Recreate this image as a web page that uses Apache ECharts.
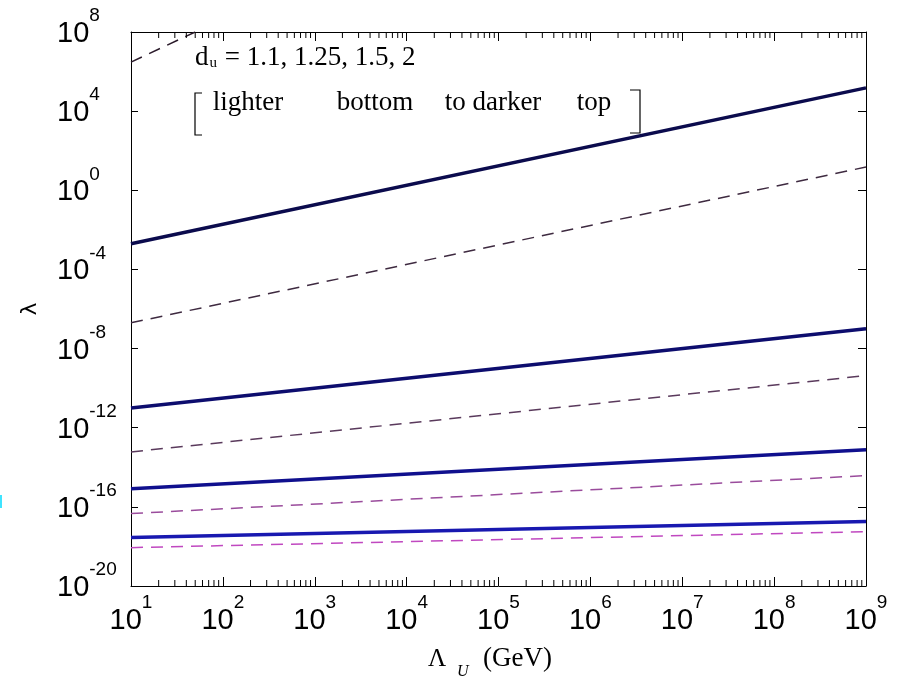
<!DOCTYPE html>
<html>
<head>
<meta charset="utf-8">
<script src="https://cdn.jsdelivr.net/npm/echarts@6/dist/echarts.min.js"></script>
<style>
html, body { margin: 0; padding: 0; background: #fff; }
#chart { width: 901px; height: 679px; }
</style>
</head>
<body>
<div id="chart"></div>
<script>
// axis range (Lambda_U in GeV, lambda)
const xRange = [10, 1e9]
const yRange = [1e-20, 1e8]

// solid lines, top to bottom (darker top -> lighter bottom)
const solid1 = [[10, 2e-3], [1e9, 1.5e5]]
const solid2 = [[10, 1e-11], [1e9, 1e-7]]
const solid3 = [[10, 8.3e-16], [1e9, 7.8e-14]]
const solid4 = [[10, 2.8e-18], [1e9, 1.8e-17]]

// dashed lines, top to bottom
const dash1 = [[10, 3e6], [50, 1e8]]
const dash2 = [[10, 2e-7], [1e9, 15]]
const dash3 = [[10, 6e-14], [1e9, 4.3e-10]]
const dash4 = [[10, 4.6e-17], [1e9, 3.8e-15]]
const dash5 = [[10, 8.7e-19], [1e9, 5.6e-18]]

const solidColors = ['#0b0b4d', '#0d0d6e', '#10108e', '#1818b0']
const dashColors = ['#2a1a2a', '#3e2a40', '#5a3a5c', '#9a4c9c', '#c048c0']

// minor tick values for the log x axis (2..9 in each decade)
const minorTicks = []
for (let e = 1; e < 9; e++) {
    for (let k = 2; k <= 9; k++) minorTicks.push(k * Math.pow(10, e))
}

const chart = echarts.init(document.getElementById('chart'))

// 10^n tick label
const powLabel = (v) => {
    const e = Math.round(Math.log10(v))
    return '{b|10}{s|' + e + '}'
}
const labelRich = {
    b: { fontSize: 29, fontFamily: 'Liberation Sans', color: '#000', padding: [13, 0, 9, 0] },
    s: { fontSize: 19, fontFamily: 'Liberation Sans', color: '#000', padding: [0, 0, 32, 0] }
}

const solidSeries = [solid1, solid2, solid3, solid4].map((d, i) => ({
    type: 'line',
    data: d,
    showSymbol: false,
    symbol: 'none',
    lineStyle: { width: 3.5, color: solidColors[i] },
    animation: false,
    z: 3
}))
const dashSeries = [dash1, dash2, dash3, dash4, dash5].map((d, i) => ({
    type: 'line',
    data: d,
    showSymbol: false,
    symbol: 'none',
    lineStyle: { width: 1.5, color: dashColors[i], type: [12, 8] },
    animation: false,
    z: 3
}))

const option = {
    backgroundColor: '#fff',
    animation: false,
    grid: { left: 131, right: 35, top: 32, bottom: 93, containLabel: false },
    xAxis: [{
        type: 'log', logBase: 10, min: xRange[0], max: xRange[1], interval: 1,
        position: 'bottom',
        axisLine: { show: true, onZero: false, lineStyle: { color: '#000', width: 1 } },
        axisTick: { show: true, inside: true, length: 9, lineStyle: { color: '#000' } },
        splitLine: { show: false },
        axisLabel: { formatter: powLabel, rich: labelRich, margin: 7, showMinLabel: true, showMaxLabel: true }
    }, {
        type: 'log', logBase: 10, min: xRange[0], max: xRange[1], interval: 1,
        position: 'top',
        axisLine: { show: true, onZero: false, lineStyle: { color: '#000', width: 1 } },
        axisTick: { show: true, inside: true, length: 9, lineStyle: { color: '#000' } },
        splitLine: { show: false },
        axisLabel: { show: false }
    }],
    yAxis: [{
        type: 'log', logBase: 10, min: yRange[0], max: yRange[1], interval: 4,
        position: 'left',
        axisLine: { show: true, onZero: false, lineStyle: { color: '#000', width: 1 } },
        axisTick: { show: true, inside: true, length: 7, lineStyle: { color: '#000' } },
        splitLine: { show: false },
        axisLabel: { formatter: powLabel, rich: labelRich, margin: 74, align: 'left', showMinLabel: true, showMaxLabel: true }
    }, {
        type: 'log', logBase: 10, min: yRange[0], max: yRange[1], interval: 4,
        position: 'right',
        axisLine: { show: true, onZero: false, lineStyle: { color: '#000', width: 1 } },
        axisTick: { show: true, inside: true, length: 8, lineStyle: { color: '#000' } },
        splitLine: { show: false },
        axisLabel: { show: false }
    }],
    series: [
        ...dashSeries,
        ...solidSeries,
        {
            // minor log ticks on bottom and top edges
            type: 'custom',
            data: minorTicks.map(v => [v, 1]),
            encode: { x: 0, y: 1 },
            clip: false,
            silent: true,
            z: 5,
            renderItem: (params, api) => {
                const v = api.value(0)
                const b = api.coord([v, yRange[0]])
                const t = api.coord([v, yRange[1]])
                const st = { stroke: '#000', lineWidth: 1 }
                return {
                    type: 'group',
                    children: [
                        { type: 'line', shape: { x1: b[0], y1: b[1], x2: b[0], y2: b[1] - 6 }, style: st },
                        { type: 'line', shape: { x1: t[0], y1: t[1], x2: t[0], y2: t[1] + 6 }, style: st }
                    ]
                }
            }
        }
    ],
    graphic: [
        // legend text
        {
            type: 'text', left: 195, top: 44,
            style: {
                text: '{a|d}{u|u}{a| = 1.1, 1.25, 1.5, 2}',
                rich: {
                    a: { fontSize: 27, fontFamily: 'Liberation Serif', fill: '#000' },
                    u: { fontSize: 15, fontFamily: 'Liberation Serif', fill: '#000', padding: [12, 1, 0, 1] }
                }
            }
        },
        { type: 'text', x: 248, y: 103, style: { text: 'lighter', fontSize: 27, fontFamily: 'Liberation Serif', fill: '#000', align: 'center', verticalAlign: 'middle' } },
        { type: 'text', x: 375, y: 103, style: { text: 'bottom', fontSize: 27, fontFamily: 'Liberation Serif', fill: '#000', align: 'center', verticalAlign: 'middle' } },
        { type: 'text', x: 493, y: 103, style: { text: 'to darker', fontSize: 27, fontFamily: 'Liberation Serif', fill: '#000', align: 'center', verticalAlign: 'middle' } },
        { type: 'text', x: 594, y: 103, style: { text: 'top', fontSize: 27, fontFamily: 'Liberation Serif', fill: '#000', align: 'center', verticalAlign: 'middle' } },
        // brackets
        { type: 'polyline', shape: { points: [[202, 93], [195, 93], [195, 135], [202, 135]] }, style: { stroke: '#000', lineWidth: 1.2, fill: null } },
        { type: 'polyline', shape: { points: [[630, 90], [640, 90], [640, 133], [630, 133]] }, style: { stroke: '#000', lineWidth: 1.2, fill: null } },
        // axis names
        { type: 'text', x: 30, y: 309, rotation: Math.PI / 2, style: { text: 'λ', fontSize: 22, fontFamily: 'DejaVu Sans', fill: '#000', align: 'center', verticalAlign: 'middle' } },
        { type: 'text', x: 428, y: 659, style: { text: 'Λ', fontSize: 25, fontFamily: 'Liberation Serif', fill: '#000', verticalAlign: 'middle' } },
        { type: 'text', x: 457, y: 672, style: { text: 'U', fontSize: 16, fontStyle: 'italic', fontFamily: 'Liberation Serif', fill: '#000', verticalAlign: 'middle' } },
        { type: 'text', x: 483, y: 659, style: { text: '(GeV)', fontSize: 27, fontFamily: 'Liberation Serif', fill: '#000', verticalAlign: 'middle' } },
        // small cyan mark at the left edge
        { type: 'rect', shape: { x: 0, y: 495, width: 2, height: 13 }, style: { fill: '#3fe4ff' } }
    ]
}

chart.setOption(option)
</script>
</body>
</html>
